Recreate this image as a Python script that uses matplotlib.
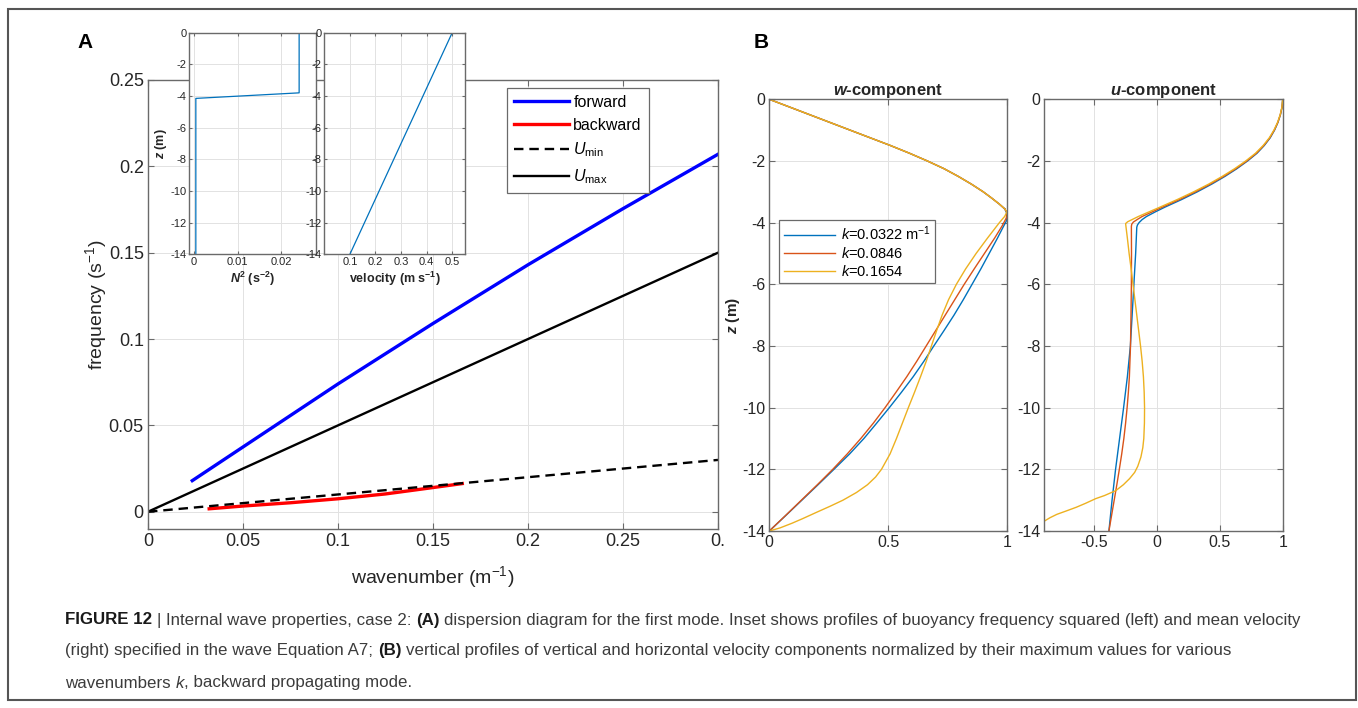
import numpy as np
import matplotlib.pyplot as plt
from matplotlib.patches import Rectangle

plt.rcParams['font.family'] = ['Liberation Sans', 'DejaVu Sans']
plt.rcParams['axes.unicode_minus'] = False
plt.rcParams['mathtext.fontset'] = 'custom'
plt.rcParams['mathtext.rm'] = 'Liberation Sans'
plt.rcParams['mathtext.it'] = 'Liberation Sans:italic'
plt.rcParams['mathtext.bf'] = 'Liberation Sans:bold'
plt.rcParams['mathtext.bfit'] = 'Liberation Sans:italic:bold'

# --- panel A: dispersion diagram
k_fwd = [0.0233, 0.05, 0.1, 0.15, 0.2, 0.25, 0.3]
om_fwd = [0.018, 0.0375, 0.074, 0.109, 0.143, 0.1755, 0.207]
k_bwd = [0.0322, 0.05, 0.075, 0.1, 0.125, 0.15, 0.1654]
om_bwd = [0.0017, 0.0033, 0.0052, 0.0075, 0.0103, 0.0140, 0.0163]
k_umin = [0, 0.3]
om_umin = [0, 0.03]
k_umax = [0, 0.3]
om_umax = [0, 0.15]

# inset profiles
z_n2 = [0, -3.8, -4.15, -14]
n2 = [0.0241, 0.0241, 0.0004, 0.0004]
z_vel = [0, -14]
vel = [0.5, 0.1]

# --- panel B: normalized mode shapes
k_labels = [r'$k$=0.0322 m$^{-1}$', r'$k$=0.0846', r'$k$=0.1654']
mode_colors = ['#0072BD', '#D95319', '#EDB120']

# w-component, upper part shared by all three
z_wtop = [0, -0.25, -0.5, -0.75, -1.0, -1.25, -1.5, -1.75, -2.0, -2.25, -2.5, -2.75,
          -3.0, -3.2, -3.4, -3.55]
w_top = [0, 0.085, 0.17, 0.255, 0.34, 0.425, 0.51, 0.59, 0.665, 0.735, 0.795, 0.85,
         0.9, 0.935, 0.968, 0.99]

z_w1 = [-3.65, -3.8, -3.95, -4.2, -4.5, -5, -5.5, -6, -6.5, -7, -7.5, -8, -8.5, -9,
        -9.5, -10, -10.5, -11, -11.5, -12, -12.5, -13, -13.5, -14]
w1 = [0.997, 1.0, 0.997, 0.98, 0.96, 0.925, 0.89, 0.853, 0.816, 0.777, 0.735, 0.692,
      0.65, 0.605, 0.556, 0.505, 0.452, 0.398, 0.338, 0.272, 0.205, 0.137, 0.069, 0]
z_w2 = [-3.65, -3.72, -3.85, -4.1, -4.5, -5, -5.5, -6, -6.5, -7, -7.5, -8, -8.5, -9,
        -9.5, -10, -10.5, -11, -11.5, -12, -12.5, -13, -13.5, -14]
w2 = [0.998, 1.0, 0.997, 0.98, 0.948, 0.905, 0.862, 0.82, 0.78, 0.74, 0.70, 0.66,
      0.62, 0.578, 0.533, 0.487, 0.438, 0.385, 0.328, 0.267, 0.202, 0.135, 0.068, 0]
z_w3 = [-3.65, -3.8, -4.0, -4.5, -5, -5.5, -6, -6.5, -7, -7.5, -8, -8.5, -9, -9.5, -10,
        -10.5, -11, -11.5, -12, -12.25, -12.5, -12.75, -13, -13.2, -13.4, -13.6, -13.75,
        -13.9, -14]
w3 = [1.0, 0.99, 0.968, 0.918, 0.87, 0.826, 0.787, 0.754, 0.727, 0.704, 0.682, 0.66,
      0.636, 0.611, 0.585, 0.56, 0.535, 0.508, 0.472, 0.447, 0.413, 0.367, 0.31, 0.255,
      0.197, 0.14, 0.095, 0.045, 0]

# u-component
z_u1 = [0, -0.25, -0.5, -0.75, -1.0, -1.25, -1.5, -1.75, -2.0, -2.25, -2.5, -2.75, -3.0,
        -3.25, -3.5, -3.65, -3.8, -3.9, -4.0, -4.08, -4.15, -5, -6, -7, -8, -9, -10, -11,
        -12, -13, -14]
u1 = [1.0, 0.995, 0.982, 0.962, 0.935, 0.9, 0.853, 0.795, 0.72, 0.635, 0.54, 0.435,
      0.32, 0.195, 0.06, -0.015, -0.085, -0.12, -0.145, -0.158, -0.163, -0.172, -0.186,
      -0.2, -0.214, -0.238, -0.268, -0.3, -0.332, -0.36, -0.385]
z_u2 = [0, -0.25, -0.5, -0.75, -1.0, -1.25, -1.5, -1.75, -2.0, -2.25, -2.5, -2.75, -3.0,
        -3.25, -3.5, -3.65, -3.8, -3.9, -3.98, -4.05, -4.12, -5, -6, -7, -8, -9, -9.5,
        -10, -10.5, -11, -11.5, -12, -12.5, -13, -13.5, -14]
u2 = [1.0, 0.995, 0.981, 0.961, 0.933, 0.897, 0.849, 0.79, 0.714, 0.627, 0.53, 0.423,
      0.305, 0.178, 0.04, -0.04, -0.12, -0.16, -0.19, -0.203, -0.206, -0.205, -0.206,
      -0.209, -0.213, -0.222, -0.23, -0.24, -0.252, -0.266, -0.283, -0.302, -0.322,
      -0.343, -0.364, -0.385]
z_u3 = [0, -0.25, -0.5, -0.75, -1.0, -1.25, -1.5, -1.75, -2.0, -2.25, -2.5, -2.75, -3.0,
        -3.25, -3.5, -3.65, -3.8, -3.9, -3.97, -4.03, -4.1, -4.5, -5, -5.5, -6, -6.5, -7,
        -7.5, -8, -8.5, -9, -9.5, -10, -10.5, -11, -11.3, -11.6, -11.9, -12.1, -12.3,
        -12.5, -12.69, -12.85, -12.95, -13.1, -13.23, -13.35, -13.46, -13.57, -13.68, -13.8]
u3 = [1.0, 0.994, 0.98, 0.959, 0.93, 0.893, 0.844, 0.783, 0.705, 0.617, 0.518, 0.41,
      0.29, 0.16, 0.02, -0.065, -0.15, -0.2, -0.235, -0.252, -0.25, -0.238, -0.224,
      -0.208, -0.193, -0.178, -0.163, -0.148, -0.133, -0.12, -0.11, -0.104, -0.101,
      -0.102, -0.107, -0.115, -0.13, -0.155, -0.18, -0.22, -0.27, -0.33, -0.42, -0.49,
      -0.57, -0.645, -0.725, -0.8, -0.855, -0.9, -0.95]

W, H = 1358, 708
fig = plt.figure(figsize=(W / 100, H / 100), dpi=100)

frame_col = '#6a6a6a'
text_col = '#262626'


def style(ax, fs):
    ax.tick_params(direction='in', length=4, width=0.8, top=True, right=True,
                   labelsize=fs, color=frame_col, labelcolor=text_col, pad=3)
    for s in ax.spines.values():
        s.set_color(frame_col)
        s.set_linewidth(1.0)
    ax.grid(True, color='#e2e2e2', lw=0.7)
    ax.set_axisbelow(True)


def fx(px):
    return px / W


def fy(py):
    return 1 - py / H


# main panel A
axA = fig.add_axes([fx(148), fy(529), fx(570), 449 / H])
axA.plot(k_fwd, om_fwd, color='#0000ff', lw=2.4, label='forward')
axA.plot(k_bwd, om_bwd, color='#ff0000', lw=2.4, label='backward')
axA.plot(k_umin, om_umin, color='k', lw=1.7, ls=(0, (4, 2.5)), label=r'$U_{\rm min}$')
axA.plot(k_umax, om_umax, color='k', lw=1.7, label=r'$U_{\rm max}$')
axA.set_xlim(0, 0.3)
axA.set_ylim(-0.01, 0.25)
axA.set_xticks([0, 0.05, 0.1, 0.15, 0.2, 0.25, 0.3])
axA.set_xticklabels(['0', '0.05', '0.1', '0.15', '0.2', '0.25', '0.'])
axA.set_yticks([0, 0.05, 0.1, 0.15, 0.2, 0.25])
axA.set_yticklabels(['0', '0.05', '0.1', '0.15', '0.2', '0.25'])
style(axA, 13)
axA.set_xlabel('wavenumber (m$^{-1}$)', fontsize=14, color=text_col, labelpad=10)
axA.set_ylabel('frequency (s$^{-1}$)', fontsize=14, color=text_col, labelpad=0)
legA = axA.legend(loc='upper left', bbox_to_anchor=(0.63, 0.983), fontsize=11.5,
                  fancybox=False, edgecolor=frame_col, framealpha=1, handlelength=3.4,
                  borderpad=0.45, labelspacing=0.5, handletextpad=0.3, borderaxespad=0)
legA.get_frame().set_linewidth(0.9)

# insets
axN = fig.add_axes([fx(189.3), fy(254.3), fx(126.4), 221.6 / H])
axN.set_facecolor('white')
axN.plot(n2, z_n2, color='#0072BD', lw=0.9)
axN.set_xlim(-0.0011, 0.0279)
axN.set_ylim(-14, 0)
axN.set_xticks([0, 0.01, 0.02])
axN.set_xticklabels(['0', '0.01', '0.02'])
axN.set_yticks(range(-14, 1, 2))
style(axN, 8)
axN.tick_params(length=2.5, pad=2)
axN.set_xlabel(r'$\mathbfit{N}^{\mathbf{2}}$ (s$^{\mathbf{-2}}$)', fontsize=9,
               fontweight='bold', color=text_col, labelpad=2)
axN.set_ylabel(r'$\mathbfit{z}$ (m)', fontsize=9, fontweight='bold', color=text_col, labelpad=1)

axV = fig.add_axes([fx(324.3), fy(254.3), fx(140.7), 221.6 / H])
axV.set_facecolor('white')
axV.plot(vel, z_vel, color='#0072BD', lw=0.9)
axV.set_xlim(0, 0.55)
axV.set_ylim(-14, 0)
axV.set_xticks([0.1, 0.2, 0.3, 0.4, 0.5])
axV.set_xticklabels(['0.1', '0.2', '0.3', '0.4', '0.5'])
axV.set_yticks(range(-14, 1, 2))
style(axV, 8)
axV.tick_params(length=2.5, pad=2)
axV.set_xlabel(r'velocity (m s$^{\mathbf{-1}}$)', fontsize=9, fontweight='bold',
               color=text_col, labelpad=2)

# panel B
axW = fig.add_axes([fx(769.3), fy(531), fx(237.7), 431.7 / H])
for c in mode_colors:
    axW.plot(w_top, z_wtop, color=c, lw=1.0)
axW.plot(w_top[-1:] + w1, z_wtop[-1:] + z_w1, color=mode_colors[0], lw=1.0, label=k_labels[0])
axW.plot(w_top[-1:] + w2, z_wtop[-1:] + z_w2, color=mode_colors[1], lw=1.0, label=k_labels[1])
axW.plot(w_top[-1:] + w3, z_wtop[-1:] + z_w3, color=mode_colors[2], lw=1.0, label=k_labels[2])
axW.set_xlim(0, 1)
axW.set_ylim(-14, 0)
axW.set_xticks([0, 0.5, 1])
axW.set_xticklabels(['0', '0.5', '1'])
axW.set_yticks(range(-14, 1, 2))
style(axW, 11.5)
axW.set_title(r'$\mathbfit{w}$-component', fontsize=12, fontweight='bold', color=text_col, pad=3)
axW.set_ylabel(r'$\mathbfit{z}$ (m)', fontsize=11, fontweight='bold', color=text_col, labelpad=0)
legB = axW.legend(loc='upper left', bbox_to_anchor=(0.042, 0.72), fontsize=10.5,
                  fancybox=False, edgecolor=frame_col, framealpha=1, handlelength=3.5,
                  borderpad=0.3, labelspacing=0.2, handletextpad=0.4, borderaxespad=0)
legB.get_frame().set_linewidth(0.9)

axU = fig.add_axes([fx(1044.3), fy(531), fx(238.4), 431.7 / H])
axU.plot(u1, z_u1, color=mode_colors[0], lw=1.0)
axU.plot(u2, z_u2, color=mode_colors[1], lw=1.0)
axU.plot(u3, z_u3, color=mode_colors[2], lw=1.0)
axU.set_xlim(-0.9, 1)
axU.set_ylim(-14, 0)
axU.set_xticks([-0.5, 0, 0.5, 1])
axU.set_xticklabels(['-0.5', '0', '0.5', '1'])
axU.set_yticks(range(-14, 1, 2))
style(axU, 11.5)
axU.set_title(r'$\mathbfit{u}$-component', fontsize=12, fontweight='bold', color=text_col, pad=3)

# panel letters and border
fig.text(fx(85), fy(42), 'A', fontsize=15, fontweight='bold', ha='center', va='center')
fig.text(fx(761), fy(42), 'B', fontsize=15, fontweight='bold', ha='center', va='center')
fig.add_artist(Rectangle((fx(8), 1 - 700 / H), fx(1348), 691 / H, transform=fig.transFigure,
                         fill=False, ec='#555555', lw=1.5))

# caption, drawn in pieces so bold/italic parts sit inline
cap_font = ['Liberation Sans', 'DejaVu Sans']
cap_fs = 12.2
cap_col = '#3c3c3c'
rend = fig.canvas.get_renderer()


def text_w(s, wt='normal', st='normal'):
    t = fig.text(0, 0, s, fontsize=cap_fs, family=cap_font, fontweight=wt, fontstyle=st)
    w = t.get_window_extent(rend).width
    t.remove()
    return w


space_w = text_w('a a') - text_w('aa')


def caption_line(y, parts):
    x = 65.0
    for s, wt, st, gap in parts:
        if gap:
            x += space_w
        col = '#1a1a1a' if wt == 'bold' else cap_col
        t = fig.text(fx(x), fy(y), s, fontsize=cap_fs, family=cap_font, fontweight=wt,
                     fontstyle=st, color=col, va='center', ha='left')
        x += t.get_window_extent(rend).width


caption_line(620, [
    ('FIGURE 12', 'bold', 'normal', False),
    ('|', 'normal', 'normal', True),
    ('Internal wave properties, case 2:', 'normal', 'normal', True),
    ('(A)', 'bold', 'normal', True),
    ('dispersion diagram for the first mode. Inset shows profiles of buoyancy frequency '
     'squared (left) and mean velocity', 'normal', 'normal', True),
])
caption_line(651, [
    ('(right) specified in the wave Equation A7;', 'normal', 'normal', False),
    ('(B)', 'bold', 'normal', True),
    ('vertical profiles of vertical and horizontal velocity components normalized by their '
     'maximum values for various', 'normal', 'normal', True),
])
caption_line(683, [
    ('wavenumbers', 'normal', 'normal', False),
    ('k', 'normal', 'italic', True),
    (', backward propagating mode.', 'normal', 'normal', False),
])

fig.savefig('out.png', dpi=100)
